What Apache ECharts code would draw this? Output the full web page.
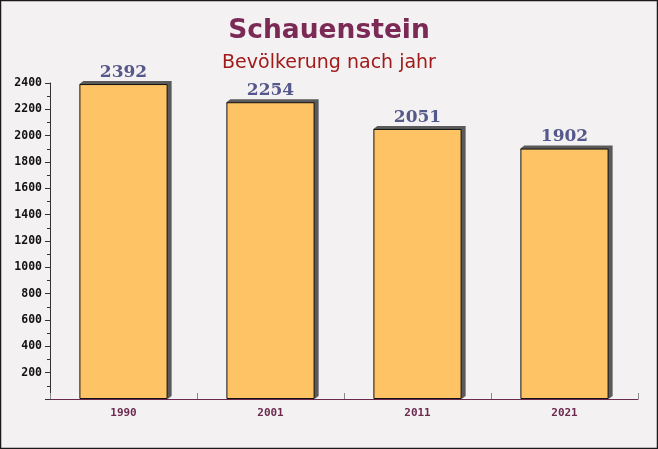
<!DOCTYPE html>
<html><head><meta charset="utf-8">
<script src="https://cdn.jsdelivr.net/npm/echarts@6/dist/echarts.min.js"></script>
<style>html,body{margin:0;padding:0;background:#f4f1f2}#c{width:658px;height:449px}</style>
</head><body><div id="c"></div>
<script>
const years = ['1990', '2001', '2011', '2021'];
const population = [2392, 2254, 2051, 1902];
const yTicks = [0, 200, 400, 600, 800, 1000, 1200, 1400, 1600, 1800, 2000, 2200, 2400];
const titleText = 'Schauenstein';
const subtitleText = 'Bevölkerung nach jahr';

const chart = echarts.init(document.getElementById('c'), null, {renderer: 'canvas'});
chart.setOption({
  backgroundColor: '#f4f1f2',
  animation: false,
  title: [
    {text: titleText, left: 'center', top: 13, textStyle: {fontFamily: 'DejaVu Sans', fontWeight: 'bold', fontSize: 26.5, color: '#7b2a55'}},
    {text: subtitleText, left: 'center', top: 49, textStyle: {fontFamily: 'DejaVu Sans', fontWeight: 'normal', fontSize: 19, color: '#a01a1a'}}
  ],
  graphic: [{type: 'rect', shape: {x: 0.5, y: 0.5, width: 657, height: 448}, style: {fill: 'none', stroke: '#1a1a1a', lineWidth: 1.5}, z: 100}],
  grid: {left: 50, right: 20, top: 83, bottom: 50},
  xAxis: {
    type: 'category', data: years,
    axisLine: {lineStyle: {color: '#6b2a50', width: 1}},
    axisTick: {show: true, inside: true, length: 6, lineStyle: {color: '#888'}},
    axisLabel: {fontFamily: 'DejaVu Sans Mono', fontWeight: 'bold', fontSize: 11, color: '#6b2a50', margin: 9}
  },
  yAxis: {
    type: 'value', min: yTicks[0], max: yTicks[yTicks.length - 1], interval: 200,
    splitLine: {show: false},
    axisLine: {show: true, lineStyle: {color: '#333'}},
    axisTick: {show: true, length: 5, lineStyle: {color: '#333'}},
    minorTick: {show: true, splitNumber: 2, length: 3, lineStyle: {color: '#333'}},
    axisLabel: {fontFamily: 'DejaVu Sans Mono', fontWeight: 'bold', fontSize: 11.5, color: '#111', margin: 8,
      formatter: v => v === 0 ? '' : String(v)}
  },
  series: [
    {
      type: 'custom', data: population.map((v, i) => [i, v]), z: 1, silent: true,
      renderItem: function (params, api) {
        const top = api.coord([api.value(0), api.value(1)]);
        const bot = api.coord([api.value(0), 0]);
        const w = api.size([1, 0])[0] * 0.6;
        const x0 = top[0] - w / 2, x1 = top[0] + w / 2;
        const dx = 4, dy = 3;
        return {
          type: 'polygon',
          shape: {points: [[x0, top[1]], [x0 + dx, top[1] - dy], [x1 + dx, top[1] - dy], [x1 + dx, bot[1] - dy], [x1, bot[1]]]},
          style: {fill: '#5a5a5a'}
        };
      }
    },
    {
      type: 'bar', data: population, barWidth: '60%', z: 2,
      itemStyle: {color: '#fdc364', borderColor: '#111', borderWidth: 1},
      label: {show: true, position: 'top', distance: 3, fontFamily: 'DejaVu Serif', fontWeight: 'bold', fontSize: 17, color: '#55588a'}
    }
  ]
});
</script></body></html>
